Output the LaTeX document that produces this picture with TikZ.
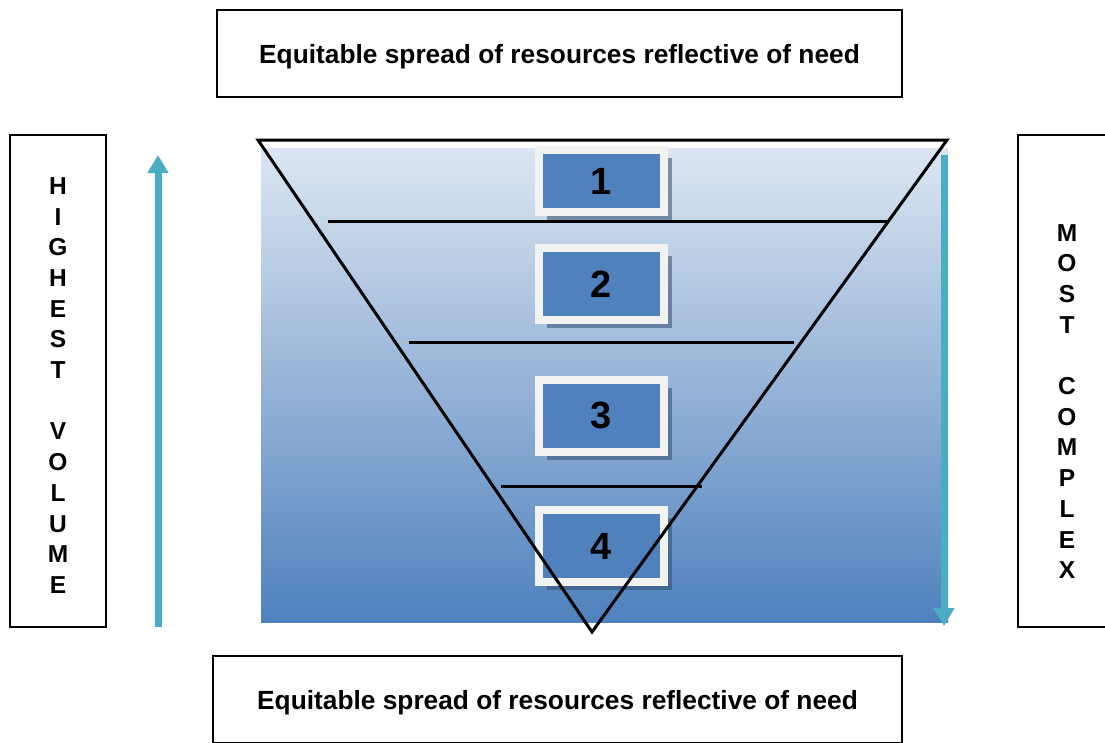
\documentclass[tikz,border=0pt]{standalone}
\usepackage{fontspec}
\setmainfont{Liberation Sans}
\usetikzlibrary{arrows.meta,shadows}
\definecolor{gradtop}{HTML}{DCE6F2}
\definecolor{gradbot}{HTML}{4F81BD}
\definecolor{boxblue}{HTML}{4F81BD}
\definecolor{framegray}{HTML}{F2F2F2}
\definecolor{arrowcyan}{HTML}{4BACC6}
\tikzset{
  outline/.style={draw=black, line width=2pt, inner sep=0pt},
  bigtext/.style={font=\fontsize{26.3}{30}\selectfont\bfseries, text depth=0pt},
  colword/.style={align=center, inner sep=0pt, font=\fontsize{24.5}{30.7}\selectfont\bfseries},
  tierbox/.style={fill=boxblue, draw=framegray, line width=8pt, minimum width=125pt, minimum height=72pt,
    font=\fontsize{38}{40}\selectfont\bfseries,
    drop shadow={shadow xshift=8pt, shadow yshift=-8pt, fill=boxblue!60!black, opacity=0.55}},
  tierline/.style={line width=3pt},
  sidearrow/.style={draw=arrowcyan, line width=7pt, -{Triangle[width=20pt,length=18pt]}},
}
\begin{document}
\begin{tikzpicture}[x=1pt,y=-1pt]
\useasboundingbox (0,0) rectangle (1105,742);
\node[outline, bigtext, minimum width=685pt, minimum height=87pt] (topbox) at (559.5,53.5) {Equitable spread of resources reflective of need};
\node[outline, bigtext, minimum width=689pt, minimum height=87pt] (botbox) at (557.5,699.5) {Equitable spread of resources reflective of need};
\node[outline, minimum width=96pt, minimum height=492pt] (volbox) at (58,381) {};
\node[outline, minimum width=89pt, minimum height=492pt] (cmplxbox) at (1062.5,381) {};
\node[colword] (volword) at (58,385.5) {H\\I\\G\\H\\E\\S\\T\\[30.7pt]V\\O\\L\\U\\M\\E};
\node[colword] (cmplxword) at (1067,401.5) {M\\O\\S\\T\\[30.7pt]C\\O\\M\\P\\L\\E\\X};

\shade[top color=gradtop, bottom color=gradbot] (261,148) rectangle (948,622);

\node[tierbox, minimum height=62pt] (tier1) at (601.5,181) {1};
\node[tierbox] (tier2) at (601.5,284) {2};
\node[tierbox] (tier3) at (601.5,415.5) {3};
\node[tierbox] (tier4) at (601.5,546) {4};

\draw[tierline] (328,221) -- (888,221);
\draw[tierline] (409,342) -- (794,342);
\draw[tierline] (501,486) -- (702,486);
\draw[tierline, line join=miter] (258,140) -- (947,140) -- (592,632) -- cycle;

\coordinate (volfoot) at (158,627);
\coordinate (volhead) at (158,155);
\coordinate (cmplxtop) at (944,155);
\coordinate (cmplxfoot) at (944,626);
\draw[sidearrow] (volfoot) -- (volhead);
\draw[sidearrow] (cmplxtop) -- (cmplxfoot);
\end{tikzpicture}
\end{document}
